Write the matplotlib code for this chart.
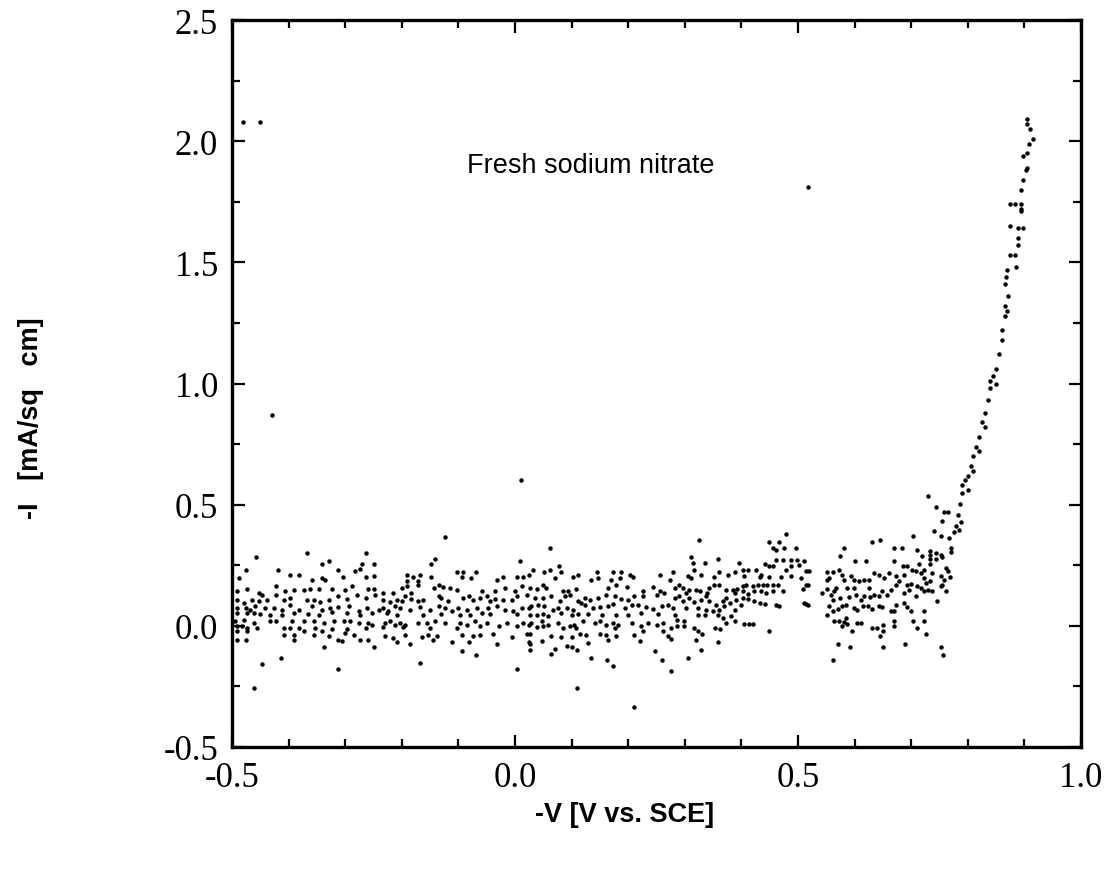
import matplotlib
matplotlib.use("Agg")
import matplotlib.pyplot as plt
from matplotlib.ticker import MultipleLocator

# ---------------- data: (-V [V vs SCE], -I [mA/sq cm]) ----------------
outliers = [(-0.48, 2.08), (-0.45, 2.08), (-0.43, 0.87), (0.01, 0.60), (0.518, 1.81)]

cloud_1 = [
    (-0.458, 0.286), (-0.367, 0.300), (-0.264, 0.300), (-0.476, 0.232), (-0.487, 0.197),
    (-0.418, 0.232), (-0.341, 0.255), (-0.329, 0.266), (-0.313, 0.232), (-0.270, 0.255),
    (-0.250, 0.255), (-0.397, 0.211), (-0.382, 0.211), (-0.359, 0.188), (-0.341, 0.197),
    (-0.335, 0.188), (-0.304, 0.200), (-0.282, 0.225), (-0.273, 0.236), (-0.264, 0.200),
    (-0.250, 0.204), (-0.491, 0.142), (-0.473, 0.153), (-0.453, 0.135), (-0.447, 0.129),
    (-0.423, 0.163), (-0.406, 0.142), (-0.391, 0.149), (-0.373, 0.149), (-0.362, 0.153),
    (-0.347, 0.153), (-0.323, 0.153), (-0.300, 0.149), (-0.288, 0.163), (-0.259, 0.153),
    (-0.250, 0.153), (-0.491, 0.108), (-0.479, 0.094), (-0.465, 0.108), (-0.453, 0.101),
    (-0.438, 0.108), (-0.423, 0.129), (-0.409, 0.108), (-0.397, 0.115), (-0.367, 0.108),
    (-0.356, 0.108), (-0.344, 0.098), (-0.329, 0.108), (-0.312, 0.122), (-0.297, 0.112),
    (-0.279, 0.129), (-0.264, 0.115), (-0.247, 0.129), (-0.491, 0.074), (-0.476, 0.074),
    (-0.468, 0.067), (-0.459, 0.081), (-0.441, 0.074), (-0.426, 0.074), (-0.412, 0.067),
    (-0.397, 0.087), (-0.382, 0.067), (-0.359, 0.081), (-0.341, 0.067), (-0.326, 0.074),
    (-0.312, 0.076), (-0.294, 0.081), (-0.276, 0.060), (-0.261, 0.074), (-0.241, 0.067),
    (-0.491, 0.053), (-0.473, 0.053), (-0.462, 0.053), (-0.450, 0.049), (-0.432, 0.044),
    (-0.412, 0.044), (-0.391, 0.053), (-0.365, 0.049), (-0.347, 0.044), (-0.323, 0.057),
    (-0.297, 0.053), (-0.273, 0.046), (-0.253, 0.053), (-0.494, 0.019), (-0.479, 0.026),
    (-0.462, 0.012), (-0.432, 0.019), (-0.423, 0.019), (-0.394, 0.019), (-0.373, 0.019),
    (-0.356, 0.019), (-0.338, 0.012), (-0.320, 0.019), (-0.303, 0.019), (-0.291, 0.019),
    (-0.276, 0.012), (-0.259, 0.012), (-0.253, 0.005), (-0.491, -0.002), (-0.482, -0.002),
    (-0.473, -0.009), (-0.456, -0.009), (-0.409, -0.009), (-0.397, -0.009), (-0.382, -0.009),
    (-0.353, -0.009), (-0.323, -0.015), (-0.297, -0.015), (-0.264, -0.009), (-0.491, -0.022),
    (-0.473, -0.022), (-0.409, -0.036), (-0.391, -0.036), (-0.373, -0.022), (-0.356, -0.036),
    (-0.341, -0.022), (-0.329, -0.043), (-0.312, -0.057), (-0.300, -0.029), (-0.285, -0.036),
    (-0.273, -0.057), (-0.259, -0.057), (-0.491, -0.057), (-0.476, -0.057), (-0.391, -0.057),
    (-0.338, -0.088), (-0.306, -0.063), (-0.250, -0.088), (-0.447, -0.157), (-0.413, -0.132),
    (-0.313, -0.180), (-0.462, -0.258),
]

cloud_2 = [
    (-0.124, 0.366), (-0.142, 0.277), (-0.149, 0.256), (0.009, 0.266), (-0.190, 0.211),
    (-0.180, 0.200), (-0.168, 0.211), (-0.190, 0.186), (-0.171, 0.186), (-0.149, 0.200),
    (-0.103, 0.222), (-0.091, 0.222), (-0.069, 0.222), (-0.094, 0.200), (-0.077, 0.197),
    (-0.031, 0.188), (-0.021, 0.200), (0.003, 0.200), (0.015, 0.200), (0.024, 0.211),
    (-0.200, 0.156), (-0.191, 0.163), (-0.183, 0.135), (-0.171, 0.167), (-0.143, 0.156),
    (-0.135, 0.167), (-0.127, 0.159), (-0.115, 0.156), (-0.103, 0.149), (-0.059, 0.142),
    (-0.035, 0.142), (-0.018, 0.156), (0.000, 0.145), (0.012, 0.163), (-0.234, 0.135),
    (-0.215, 0.135), (-0.233, 0.108), (-0.221, 0.098), (-0.209, 0.108), (-0.200, 0.104),
    (-0.194, 0.122), (-0.183, 0.112), (-0.171, 0.104), (-0.162, 0.108), (-0.135, 0.122),
    (-0.130, 0.115), (-0.118, 0.104), (-0.091, 0.115), (-0.082, 0.122), (-0.074, 0.108),
    (-0.062, 0.115), (-0.050, 0.122), (-0.044, 0.101), (-0.035, 0.112), (-0.021, 0.108),
    (-0.006, 0.108), (0.003, 0.122), (0.021, 0.129), (-0.233, 0.074), (-0.224, 0.063),
    (-0.212, 0.081), (-0.203, 0.074), (-0.186, 0.067), (-0.168, 0.076), (-0.150, 0.067),
    (-0.135, 0.081), (-0.124, 0.074), (-0.112, 0.060), (-0.100, 0.074), (-0.085, 0.067),
    (-0.068, 0.074), (-0.059, 0.053), (-0.047, 0.074), (-0.032, 0.081), (-0.018, 0.067),
    (-0.003, 0.060), (0.012, 0.074), (0.024, 0.074), (-0.227, 0.053), (-0.209, 0.046),
    (-0.162, 0.046), (-0.130, 0.049), (-0.097, 0.044), (-0.079, 0.044), (-0.044, 0.049),
    (0.003, 0.049), (-0.230, 0.012), (-0.221, 0.019), (-0.212, 0.005), (-0.203, 0.012),
    (-0.194, 0.002), (-0.171, 0.012), (-0.156, 0.012), (-0.141, 0.019), (-0.124, 0.012),
    (-0.097, 0.012), (-0.085, 0.005), (-0.071, 0.019), (-0.062, -0.002), (-0.050, 0.012),
    (-0.029, -0.002), (-0.015, 0.012), (0.003, -0.002), (0.015, 0.012), (0.024, 0.005),
    (-0.233, -0.006), (-0.197, -0.006), (-0.150, -0.009), (-0.103, -0.009), (-0.230, -0.043),
    (-0.215, -0.050), (-0.209, -0.066), (-0.194, -0.036), (-0.186, -0.077), (-0.165, -0.047),
    (-0.153, -0.036), (-0.144, -0.057), (-0.138, -0.043), (-0.112, -0.066), (-0.094, -0.036),
    (-0.082, -0.066), (-0.074, -0.043), (-0.062, -0.036), (-0.038, -0.033), (-0.032, -0.077),
    (-0.006, -0.047), (0.021, -0.033), (0.025, -0.066), (-0.094, -0.102), (-0.069, -0.121),
    (-0.167, -0.153), (0.003, -0.177),
]

cloud_3 = [
    (0.062, 0.323), (0.032, 0.232), (0.052, 0.222), (0.061, 0.232), (0.077, 0.245),
    (0.082, 0.222), (0.103, 0.200), (0.111, 0.208), (0.144, 0.222), (0.147, 0.197),
    (0.135, 0.190), (0.173, 0.222), (0.188, 0.222), (0.203, 0.208), (0.209, 0.200),
    (0.170, 0.190), (0.185, 0.197), (0.256, 0.208), (0.280, 0.222), (0.273, 0.190),
    (0.070, 0.197), (0.026, 0.156), (0.038, 0.153), (0.050, 0.167), (0.055, 0.156),
    (0.085, 0.145), (0.094, 0.145), (0.108, 0.153), (0.164, 0.156), (0.179, 0.167),
    (0.197, 0.159), (0.226, 0.145), (0.244, 0.159), (0.256, 0.145), (0.282, 0.156),
    (0.035, 0.115), (0.050, 0.115), (0.064, 0.122), (0.079, 0.104), (0.088, 0.122),
    (0.097, 0.129), (0.111, 0.104), (0.123, 0.115), (0.132, 0.108), (0.147, 0.115),
    (0.161, 0.129), (0.176, 0.122), (0.188, 0.112), (0.200, 0.108), (0.211, 0.122),
    (0.226, 0.122), (0.250, 0.129), (0.264, 0.135), (0.282, 0.115), (0.029, 0.081),
    (0.041, 0.085), (0.052, 0.081), (0.067, 0.067), (0.076, 0.074), (0.091, 0.074),
    (0.103, 0.067), (0.117, 0.094), (0.123, 0.085), (0.138, 0.074), (0.150, 0.076),
    (0.164, 0.081), (0.173, 0.090), (0.194, 0.074), (0.206, 0.085), (0.217, 0.087),
    (0.232, 0.076), (0.244, 0.071), (0.259, 0.081), (0.270, 0.085), (0.279, 0.074),
    (0.026, 0.044), (0.038, 0.044), (0.050, 0.049), (0.058, 0.039), (0.082, 0.053),
    (0.100, 0.044), (0.111, 0.049), (0.129, 0.049), (0.153, 0.046), (0.179, 0.044),
    (0.200, 0.044), (0.223, 0.053), (0.253, 0.049), (0.282, 0.046), (0.029, 0.012),
    (0.047, 0.022), (0.058, 0.005), (0.076, 0.012), (0.085, -0.009), (0.097, -0.002),
    (0.105, 0.005), (0.120, 0.019), (0.141, 0.012), (0.150, 0.019), (0.161, 0.005),
    (0.173, 0.012), (0.182, 0.002), (0.206, 0.012), (0.223, -0.002), (0.235, 0.012),
    (0.250, 0.005), (0.262, 0.012), (0.276, -0.009), (0.038, -0.006), (0.050, -0.002),
    (0.108, -0.009), (0.176, -0.009), (0.226, -0.020), (0.262, -0.020), (0.026, -0.033),
    (0.047, -0.063), (0.064, -0.043), (0.082, -0.047), (0.100, -0.047), (0.114, -0.033),
    (0.126, -0.036), (0.129, -0.070), (0.150, -0.033), (0.161, -0.036), (0.164, -0.057),
    (0.179, -0.043), (0.211, -0.036), (0.220, -0.063), (0.270, -0.043), (0.276, -0.053),
    (0.026, -0.077), (0.026, -0.098), (0.064, -0.118), (0.091, -0.084), (0.100, -0.088),
    (0.110, -0.098), (0.247, -0.102), (0.135, -0.132), (0.163, -0.143), (0.173, -0.164),
    (0.260, -0.143), (0.275, -0.187), (0.110, -0.256), (0.211, -0.334), (0.070, -0.094),
]

cloud_4 = [
    (0.479, 0.378), (0.325, 0.355), (0.449, 0.345), (0.467, 0.345), (0.455, 0.323),
    (0.476, 0.323), (0.461, 0.314), (0.497, 0.323), (0.311, 0.286), (0.358, 0.277),
    (0.396, 0.259), (0.335, 0.259), (0.314, 0.259), (0.441, 0.255), (0.449, 0.245),
    (0.461, 0.273), (0.473, 0.273), (0.488, 0.273), (0.499, 0.273), (0.511, 0.266),
    (0.402, 0.232), (0.411, 0.232), (0.426, 0.232), (0.317, 0.232), (0.361, 0.222),
    (0.376, 0.211), (0.388, 0.222), (0.455, 0.245), (0.479, 0.232), (0.488, 0.245),
    (0.502, 0.252), (0.514, 0.225), (0.520, 0.225), (0.305, 0.204), (0.311, 0.197),
    (0.329, 0.211), (0.352, 0.200), (0.405, 0.204), (0.432, 0.200), (0.449, 0.200),
    (0.470, 0.200), (0.488, 0.204), (0.505, 0.197), (0.435, 0.211), (0.290, 0.170),
    (0.296, 0.156), (0.308, 0.149), (0.320, 0.149), (0.343, 0.156), (0.352, 0.167),
    (0.361, 0.167), (0.373, 0.149), (0.385, 0.149), (0.393, 0.153), (0.402, 0.163),
    (0.408, 0.167), (0.420, 0.163), (0.429, 0.167), (0.438, 0.167), (0.446, 0.167),
    (0.455, 0.167), (0.464, 0.167), (0.473, 0.145), (0.508, 0.153), (0.517, 0.167),
    (0.302, 0.135), (0.326, 0.142), (0.340, 0.135), (0.388, 0.135), (0.402, 0.142),
    (0.411, 0.131), (0.423, 0.145), (0.435, 0.142), (0.444, 0.135), (0.455, 0.145),
    (0.290, 0.122), (0.296, 0.101), (0.302, 0.074), (0.308, 0.115), (0.317, 0.098),
    (0.329, 0.108), (0.338, 0.122), (0.343, 0.101), (0.355, 0.087), (0.367, 0.104),
    (0.373, 0.115), (0.379, 0.094), (0.391, 0.108), (0.402, 0.115), (0.411, 0.112),
    (0.423, 0.104), (0.432, 0.094), (0.441, 0.090), (0.461, 0.087), (0.467, 0.081),
    (0.511, 0.094), (0.517, 0.085), (0.323, 0.074), (0.338, 0.067), (0.349, 0.060),
    (0.361, 0.067), (0.370, 0.081), (0.388, 0.067), (0.399, 0.085), (0.287, 0.026),
    (0.299, 0.022), (0.287, -0.002), (0.299, -0.002), (0.323, 0.044), (0.335, 0.044),
    (0.358, 0.044), (0.367, 0.033), (0.373, 0.012), (0.382, 0.039), (0.388, 0.022),
    (0.405, 0.008), (0.413, 0.008), (0.421, 0.008), (0.317, -0.009), (0.323, -0.022),
    (0.330, -0.033), (0.354, -0.009), (0.362, -0.015), (0.449, -0.022), (0.319, -0.057),
    (0.358, -0.066), (0.329, -0.101), (0.305, -0.132), (0.515, 0.169), (0.515, 0.090),
]

cloud_5 = [
    (0.729, 0.537), (0.743, 0.492), (0.758, 0.469), (0.765, 0.469), (0.755, 0.433),
    (0.740, 0.392), (0.704, 0.369), (0.752, 0.369), (0.767, 0.362), (0.631, 0.345),
    (0.645, 0.355), (0.581, 0.323), (0.670, 0.323), (0.684, 0.323), (0.710, 0.314),
    (0.734, 0.307), (0.743, 0.300), (0.734, 0.293), (0.752, 0.293), (0.719, 0.290),
    (0.575, 0.290), (0.600, 0.266), (0.621, 0.266), (0.670, 0.268), (0.734, 0.275),
    (0.743, 0.275), (0.734, 0.255), (0.755, 0.286), (0.714, 0.256), (0.686, 0.245),
    (0.693, 0.245), (0.702, 0.231), (0.708, 0.225), (0.723, 0.231), (0.717, 0.218),
    (0.737, 0.218), (0.761, 0.238), (0.765, 0.225), (0.769, 0.200), (0.752, 0.204),
    (0.551, 0.222), (0.561, 0.222), (0.572, 0.231), (0.577, 0.211), (0.552, 0.190),
    (0.555, 0.197), (0.581, 0.190), (0.593, 0.204), (0.599, 0.190), (0.608, 0.186),
    (0.617, 0.190), (0.626, 0.190), (0.634, 0.218), (0.643, 0.211), (0.652, 0.197),
    (0.661, 0.218), (0.673, 0.204), (0.679, 0.186), (0.687, 0.211), (0.693, 0.170),
    (0.699, 0.172), (0.711, 0.163), (0.723, 0.197), (0.726, 0.177), (0.734, 0.186),
    (0.752, 0.163), (0.758, 0.190), (0.552, 0.153), (0.567, 0.156), (0.558, 0.129),
    (0.561, 0.108), (0.564, 0.142), (0.575, 0.115), (0.587, 0.156), (0.590, 0.118),
    (0.599, 0.156), (0.602, 0.129), (0.611, 0.108), (0.617, 0.122), (0.626, 0.156),
    (0.628, 0.118), (0.634, 0.129), (0.643, 0.122), (0.649, 0.142), (0.658, 0.129),
    (0.664, 0.149), (0.673, 0.170), (0.687, 0.135), (0.696, 0.149), (0.708, 0.122),
    (0.717, 0.156), (0.723, 0.142), (0.729, 0.149), (0.737, 0.145), (0.746, 0.104),
    (0.755, 0.170), (0.761, 0.142), (0.555, 0.080), (0.561, 0.060), (0.552, 0.046),
    (0.570, 0.071), (0.578, 0.080), (0.584, 0.085), (0.599, 0.074), (0.605, 0.067),
    (0.614, 0.080), (0.623, 0.080), (0.631, 0.071), (0.643, 0.080), (0.649, 0.076),
    (0.664, 0.060), (0.670, 0.063), (0.673, 0.087), (0.687, 0.094), (0.693, 0.076),
    (0.699, 0.060), (0.723, 0.060), (0.584, 0.032), (0.564, 0.021), (0.572, 0.021),
    (0.581, 0.016), (0.587, 0.008), (0.605, 0.012), (0.611, 0.012), (0.631, -0.009),
    (0.640, -0.009), (0.651, 0.002), (0.670, 0.019), (0.670, -0.002), (0.704, 0.021),
    (0.710, -0.009), (0.723, 0.021), (0.577, -0.002), (0.596, -0.022), (0.651, -0.020),
    (0.645, -0.043), (0.727, -0.033), (0.571, -0.077), (0.592, -0.088), (0.651, -0.088),
    (0.689, -0.077), (0.752, -0.086), (0.757, -0.121), (0.562, -0.143), (0.542, 0.136),
]

rise = [
    (0.790, 0.547), (0.786, 0.502), (0.782, 0.458), (0.788, 0.430), (0.779, 0.410),
    (0.785, 0.396), (0.776, 0.389), (0.770, 0.321), (0.771, 0.304),
    (0.790, 0.58), (0.795, 0.60), (0.800, 0.62), (0.800, 0.56), (0.805, 0.66),
    (0.810, 0.70), (0.810, 0.64), (0.815, 0.74), (0.820, 0.78), (0.820, 0.72),
    (0.825, 0.84), (0.830, 0.88), (0.830, 0.82), (0.835, 0.93), (0.840, 0.98),
    (0.840, 1.01), (0.845, 1.03), (0.850, 1.06), (0.850, 1.00), (0.855, 1.12),
    (0.860, 1.18), (0.860, 1.22), (0.865, 1.28), (0.865, 1.32), (0.870, 1.30),
    (0.871, 1.36), (0.865, 1.41), (0.867, 1.44), (0.869, 1.47), (0.885, 1.48),
    (0.875, 1.53), (0.883, 1.53), (0.889, 1.57), (0.889, 1.60), (0.875, 1.65),
    (0.889, 1.64), (0.897, 1.64), (0.894, 1.71), (0.894, 1.72), (0.875, 1.74),
    (0.883, 1.74), (0.894, 1.74), (0.894, 1.80), (0.898, 1.84), (0.903, 1.88),
    (0.905, 1.89), (0.898, 1.94), (0.905, 1.95), (0.908, 1.99), (0.915, 2.01),
    (0.910, 2.05), (0.905, 2.07), (0.905, 2.09),
]

x_ticks = [-0.5, 0.0, 0.5, 1.0]
y_ticks = [-0.5, 0.0, 0.5, 1.0, 1.5, 2.0, 2.5]
x_label = "-V [V vs. SCE]"
y_label = "-I   [mA/sq   cm]"
note = "Fresh sodium nitrate"

# ---------------- figure ----------------
W, H = 1110, 895
fig = plt.figure(figsize=(W / 100, H / 100), dpi=100)
ax = fig.add_axes([232 / W, 1 - 748 / H, (1081 - 232) / W, (748 - 21) / H])

for grp in (cloud_1, cloud_2, cloud_3, cloud_4, cloud_5, rise, outliers):
    v, i = zip(*grp)
    ax.plot(v, i, linestyle="none", marker="o", ms=3.2, color="black", mew=0)

ax.set_xlim(-0.5, 1.0)
ax.set_ylim(-0.5, 2.5)
ax.set_xticks(x_ticks)
ax.set_yticks(y_ticks)
ax.set_xticklabels([f"{t:.1f}" for t in x_ticks])
ax.set_yticklabels([f"{t:.1f}" for t in y_ticks])
ax.xaxis.set_minor_locator(MultipleLocator(0.1))
ax.yaxis.set_minor_locator(MultipleLocator(0.25))

serif = ["Liberation Serif", "DejaVu Serif"]
for lab in ax.get_xticklabels() + ax.get_yticklabels():
    lab.set_family(serif)
    lab.set_fontsize(25)

ax.tick_params(which="both", direction="in", top=True, right=True, width=1.6, colors="black")
ax.tick_params(which="major", length=9)
ax.tick_params(which="minor", length=5.5)
ax.tick_params(axis="x", which="major", pad=10)
ax.tick_params(axis="y", which="major", pad=10)
for s in ax.spines.values():
    s.set_linewidth(2.4)

ax.text(-0.085, 1.90, note, fontsize=19.5, family=["Liberation Sans", "DejaVu Sans"],
        ha="left", va="center")

fig.text(625 / W, 1 - 815 / H, x_label, fontsize=19.5, fontweight="bold",
         family=["Liberation Sans", "DejaVu Sans"], ha="center", va="center")
fig.text(31 / W, 1 - 418 / H, y_label, fontsize=19.5, fontweight="bold", rotation=90,
         family=["Liberation Sans", "DejaVu Sans"], ha="center", va="center")

fig.savefig("out.png", dpi=100, facecolor="white")
